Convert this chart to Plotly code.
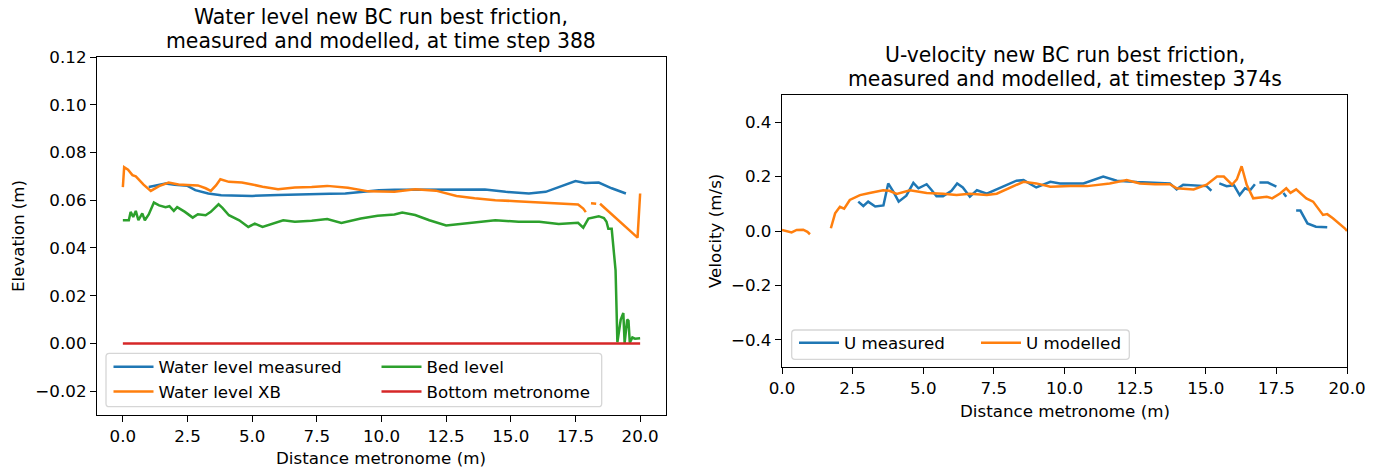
import plotly.graph_objects as go

# ---------------- data: water level panel ----------------
dist_wl_meas = [1.0, 1.3, 1.65, 2.0, 2.5, 2.8, 3.3, 3.8, 4.4, 5.0, 6.0, 7.0, 8.0, 8.6, 9.2,
                9.9, 10.5, 11.5, 12.5, 13.0, 14.0, 14.8, 15.7, 16.35, 16.85, 17.5, 17.87,
                18.4, 18.9, 19.45]
wl_meas = [0.0655, 0.0663, 0.0670, 0.0665, 0.0660, 0.0642, 0.0628, 0.0621, 0.0618, 0.0618,
           0.0622, 0.0626, 0.0627, 0.0628, 0.0634, 0.0642, 0.0644, 0.0645, 0.0645, 0.0645,
           0.0645, 0.0635, 0.0628, 0.0635, 0.0656, 0.0680, 0.0672, 0.0674, 0.0650, 0.0628]

dist_wl_xb = [0.0, 0.05, 0.2, 0.37, 0.5, 0.62, 0.8, 1.08, 1.4, 1.77, 2.15, 2.5, 2.9, 3.2,
              3.4, 3.6, 3.77, 4.1, 4.6, 5.0, 5.4, 6.0, 6.65, 7.3, 7.9, 8.7, 9.5, 10.5, 11.3,
              12.1, 12.9, 13.6, 14.4, 15.2, 16.1, 16.9, 17.6, 17.8, 17.9, 18.0, 18.1, 18.3,
              18.38, 18.45, 19.0, 19.5, 19.9, 20.0]
wl_xb = [0.0655, 0.0738, 0.0728, 0.0705, 0.0700, 0.0684, 0.0665, 0.0639, 0.0659, 0.0674,
         0.0666, 0.0664, 0.0662, 0.0650, 0.0639, 0.0662, 0.0688, 0.0677, 0.0674, 0.0666,
         0.0656, 0.0646, 0.0653, 0.0655, 0.0660, 0.0652, 0.0637, 0.0635, 0.0646, 0.0640,
         0.0618, 0.0608, 0.0600, 0.0596, 0.0590, 0.0587, 0.0582, 0.0565, 0.0550, None,
         0.0587, 0.0585, None, 0.0585, 0.0531, 0.0482, 0.0443, 0.0628]

dist_bed = [0.0, 0.23, 0.3, 0.4, 0.5, 0.6, 0.75, 0.85, 1.0, 1.2, 1.4, 1.65, 1.8, 1.97, 2.1,
            2.4, 2.7, 2.9, 3.2, 3.4, 3.7, 3.85, 4.1, 4.5, 4.85, 5.1, 5.4, 5.8, 6.2, 6.65,
            7.3, 7.9, 8.45, 9.2, 9.85, 10.5, 10.8, 11.3, 11.85, 12.5, 13.0, 13.65, 14.4,
            15.3, 16.1, 16.85, 17.6, 17.8, 18.0, 18.4, 18.6, 18.7, 18.77, 18.9, 19.05,
            19.12, 19.25, 19.35, 19.4, 19.5, 19.55, 19.6, 19.7, 19.8, 20.0]
bed_level = [0.0516, 0.0516, 0.0551, 0.0530, 0.0555, 0.0516, 0.0545, 0.0516, 0.0540, 0.0590,
             0.0578, 0.0571, 0.0575, 0.0555, 0.0571, 0.0551, 0.0527, 0.0541, 0.0537, 0.0551,
             0.0583, 0.0568, 0.0537, 0.0516, 0.0488, 0.0502, 0.0488, 0.0502, 0.0516, 0.0510,
             0.0514, 0.0521, 0.0505, 0.0523, 0.0535, 0.0540, 0.0548, 0.0538, 0.0516, 0.0494,
             0.0500, 0.0507, 0.0516, 0.0510, 0.0510, 0.0500, 0.0505, 0.0485, 0.0523, 0.0533,
             0.0525, 0.0510, 0.0480, 0.0480, 0.0306, 0.0005, 0.0100, 0.0127, 0.0002, 0.0100,
             0.0095, 0.0003, 0.0025, 0.0020, 0.0022]

dist_bottom = [0.0, 20.0]
bottom_level = [0.0, 0.0]

# ---------------- data: velocity panel ----------------
dist_u_meas = [2.7, 2.88, 3.05, 3.3, 3.59, 3.76, 3.94, 4.13, 4.4, 4.65, 4.83, 5.12, 5.3,
               5.47, 5.7, 6.0, 6.2, 6.4, 6.65, 6.9, 7.25, 7.83, 8.3, 8.55, 9.0, 9.5, 9.84,
               10.67, 11.37, 11.85, 12.56, 13.73, 13.97, 14.2, 15.03, 15.2, 15.35, 15.48,
               15.74, 16.0, 16.2, 16.39, 16.57, 16.74, 16.82, 16.9, 17.2, 17.5, 17.65, 17.75,
               17.85, 18.0, 18.2, 18.35, 18.6, 18.9, 19.3]
u_meas = [0.108, 0.092, 0.108, 0.090, 0.094, 0.175, 0.145, 0.108, 0.130, 0.177, 0.157,
          0.172, 0.150, 0.128, 0.128, 0.148, 0.175, 0.160, 0.126, 0.150, 0.137, 0.163,
          0.185, 0.187, 0.160, 0.181, 0.175, 0.175, 0.200, 0.185, 0.180, 0.175, 0.153,
          0.170, 0.165, 0.148, None, 0.175, 0.165, 0.168, 0.132, 0.157, 0.150, 0.172, None,
          0.178, 0.178, 0.163, None, 0.140, 0.126, None, 0.075, 0.075, 0.028, 0.016, 0.014]

dist_u_mod = [0.0, 0.15, 0.34, 0.52, 0.75, 0.9, 0.99, 1.3, 1.73, 1.88, 2.05, 2.2, 2.4, 2.76,
              3.1, 3.58, 3.8, 4.06, 4.53, 5.12, 5.7, 6.18, 6.65, 7.25, 7.6, 8.2, 8.55, 9.0,
              9.5, 10.2, 10.8, 11.6, 12.2, 12.67, 13.2, 13.73, 13.97, 14.57, 15.03, 15.4,
              15.64, 15.93, 16.1, 16.27, 16.45, 16.68, 17.16, 17.35, 17.63, 17.85, 18.0,
              18.2, 18.56, 18.8, 19.15, 19.3, 19.5, 19.92, 20.0]
u_mod = [0.004, 0.000, -0.005, 0.004, 0.005, -0.003, -0.012, None, 0.010, 0.065, 0.089,
         0.082, 0.114, 0.132, 0.140, 0.150, 0.148, 0.136, 0.150, 0.140, 0.137, 0.132, 0.137,
         0.132, 0.137, 0.163, 0.181, 0.175, 0.163, 0.165, 0.165, 0.175, 0.187, 0.175, 0.172,
         0.172, 0.157, 0.153, 0.170, 0.200, 0.200, 0.170, 0.190, 0.238, 0.170, 0.120, 0.126,
         0.120, 0.138, 0.157, 0.140, 0.153, 0.120, 0.108, 0.059, 0.062, 0.047, 0.010, 0.000]

dist_ticks = [0.0, 2.5, 5.0, 7.5, 10.0, 12.5, 15.0, 17.5, 20.0]
elev_ticks = [-0.02, 0.0, 0.02, 0.04, 0.06, 0.08, 0.10, 0.12]
vel_ticks = [-0.4, -0.2, 0.0, 0.2, 0.4]

# ---------------- figure geometry (pixels) ----------------
W, H = 1381, 470
FONT = "DejaVu Sans"
BLUE, ORANGE, GREEN, RED = "#1f77b4", "#ff7f0e", "#2ca02c", "#d62728"
LW = 2.5


def px(x):
    return x / W


def py(y):
    return 1 - y / H


fig = go.Figure()


def line(x, y, name, color, xa, ya, legend):
    fig.add_trace(go.Scatter(x=x, y=y, mode="lines", name=name,
                             line=dict(color=color, width=LW),
                             connectgaps=False, xaxis=xa, yaxis=ya, legend=legend))


line(dist_wl_meas, wl_meas, "Water level measured", BLUE, "x", "y", "legend")
line(dist_wl_xb, wl_xb, "Water level XB", ORANGE, "x", "y", "legend")
line(dist_bed, bed_level, "Bed level", GREEN, "x", "y", "legend2")
line(dist_bottom, bottom_level, "Bottom metronome", RED, "x", "y", "legend2")
line(dist_u_meas, u_meas, "U measured", BLUE, "x2", "y2", "legend3")
line(dist_u_mod, u_mod, "U modelled", ORANGE, "x2", "y2", "legend4")

axis_common = dict(showgrid=False, zeroline=False, showline=True, mirror=True,
                   automargin=False,
                   linecolor="black", linewidth=1.3, ticks="outside", ticklen=6,
                   tickwidth=1.3, tickcolor="black",
                   tickfont=dict(family=FONT, size=16.7, color="black"))

fig.update_layout(
    width=W, height=H, autosize=False,
    margin=dict(l=0, r=0, t=0, b=0, pad=0),
    paper_bgcolor="white", plot_bgcolor="white",
    font=dict(family=FONT, size=16.7, color="black"),
    xaxis=dict(domain=[px(97), px(666)], range=[-1, 21], tickvals=dist_ticks,
               tickformat=".1f", anchor="y", **axis_common),
    yaxis=dict(domain=[py(415), py(57)], range=[-0.03, 0.12], tickvals=elev_ticks,
               tickformat=".2f", anchor="x", **axis_common),
    xaxis2=dict(domain=[px(782), px(1347)], range=[0, 20], tickvals=dist_ticks,
                tickformat=".1f", anchor="y2", **axis_common),
    yaxis2=dict(domain=[py(367), py(95)], range=[-0.5, 0.5], tickvals=vel_ticks,
                tickformat=".1f", anchor="x2", **axis_common),
)

legend_common = dict(bgcolor="rgba(0,0,0,0)", borderwidth=0, tracegroupgap=0,
                     itemwidth=40,
                     font=dict(family=FONT, size=16.7, color="black"),
                     xanchor="left", yanchor="top", orientation="v")
fig.update_layout(
    legend=dict(x=px(108.5), y=py(349.5), **legend_common),
    legend2=dict(x=px(376.5), y=py(349.5), **legend_common),
    legend3=dict(x=px(794), y=py(325.5), **legend_common),
    legend4=dict(x=px(976), y=py(325.5), **legend_common),
)


def rounded_box(x0, y0, x1, y1, r=3.3):
    rx, ry = r / W, r / H
    X0, X1 = px(x0), px(x1)
    Yt, Yb = py(y0), py(y1)
    return (f"M{X0 + rx},{Yt} L{X1 - rx},{Yt} Q{X1},{Yt} {X1},{Yt - ry} "
            f"L{X1},{Yb + ry} Q{X1},{Yb} {X1 - rx},{Yb} L{X0 + rx},{Yb} "
            f"Q{X0},{Yb} {X0},{Yb + ry} L{X0},{Yt - ry} Q{X0},{Yt} {X0 + rx},{Yt} Z")


for box in [(106, 353.3, 601.7, 406.7), (791.7, 330, 1129.3, 359.3)]:
    fig.add_shape(type="path", path=rounded_box(*box), xref="paper", yref="paper",
                  fillcolor="rgba(255,255,255,0.8)", line=dict(color="#d6d6d6", width=1.3),
                  layer="above")

annotations = [
    # panel titles
    ("Water level new BC run best friction,", px(381.5), py(17), 20.4, 0),
    ("measured and modelled, at time step 388", px(381.5), py(41), 20.4, 0),
    ("U-velocity new BC run best friction,", px(1064.5), py(55), 20.4, 0),
    ("measured and modelled, at timestep 374s", px(1064.5), py(79), 20.4, 0),
    # axis titles
    ("Distance metronome (m)", px(381.5), py(458), 16.7, 0),
    ("Elevation (m)", px(18), py(236), 16.7, -90),
    ("Distance metronome (m)", px(1064.5), py(411), 16.7, 0),
    ("Velocity (m/s)", px(715), py(231), 16.7, -90),
]
for text, x, y, size, angle in annotations:
    fig.add_annotation(text=text, x=x, y=y, xref="paper", yref="paper",
                       xanchor="center", yanchor="middle", showarrow=False,
                       textangle=angle, font=dict(family=FONT, size=size, color="black"))

fig.write_html("out.html")
